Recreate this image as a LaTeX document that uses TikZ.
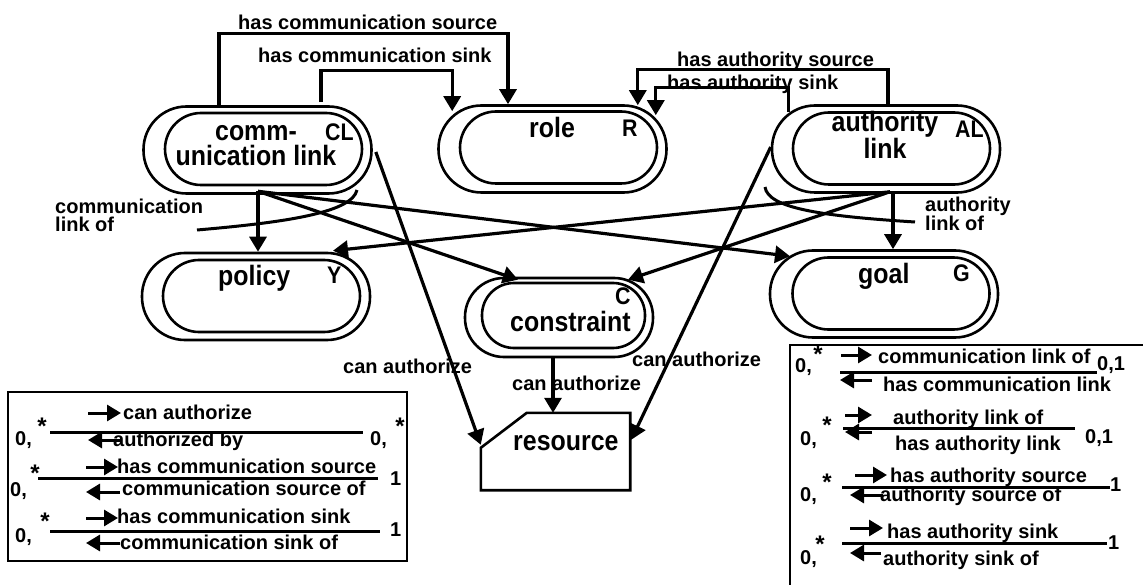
\documentclass[tikz,border=0pt]{standalone}
\usepackage{fontspec}
\setmainfont{Liberation Sans}
\newfontfamily\tallfont{Liberation Sans}[FakeStretch=0.89]
\usetikzlibrary{arrows.meta,calc}
\begin{document}
\begin{tikzpicture}[x=1pt,y=-1pt,
  outerst/.style={draw, line width=2.6pt, rounded corners=43pt, minimum width=228pt, minimum height=87pt, inner sep=0pt},
  innerst/.style={draw, line width=2.6pt, rounded corners=36pt, minimum width=197pt, minimum height=72pt, inner sep=0pt},
  conn/.style={line width=3.2pt, -{Triangle[length=15pt,width=17pt]}},
  plain/.style={line width=3pt},
  legr/.style={line width=3pt, -{Triangle[length=14pt,width=16pt]}},
  lbl/.style={font=\bfseries\fontsize{20}{20}\selectfont, inner sep=0pt, anchor=base west},
  nlbl/.style={font=\tallfont\bfseries\fontsize{28}{23}\selectfont, inner sep=0pt, anchor=base west},
  ltr/.style={font=\tallfont\bfseries\fontsize{24}{24}\selectfont, inner sep=0pt, anchor=base west},
  ast/.style={font=\bfseries\fontsize{24}{24}\selectfont, inner sep=0pt}
]
\useasboundingbox (0,0) rectangle (1143,585);

% ---- entity nodes
\node[outerst] (CL) at (257.5,150) {};
\node[innerst] (CLi) at (263.5,149) {};
\node[outerst] (R) at (552.5,149) {};
\node[innerst] (Ri) at (558.5,147.5) {};
\node[outerst] (AL) at (886,149) {};
\node[innerst] (ALi) at (891.5,148.5) {};
\node[outerst] (Y) at (256,296.5) {};
\node[innerst] (Yi) at (261.5,296) {};
\node[outerst] (G) at (884,294) {};
\node[innerst] (Gi) at (891,293.5) {};
\node[outerst, minimum width=188pt, minimum height=79pt, rounded corners=39pt] (C) at (559,317.5) {};
\node[innerst, minimum width=163pt, minimum height=65pt, rounded corners=32pt] (Ci) at (563.5,315.5) {};
\node[minimum width=149pt, minimum height=77pt, inner sep=0pt] (res) at (555.5,451.5) {};
\draw[line width=2.6pt] ($(res.north west)+(46,0)$) -- (res.north east) -- (res.south east) -- (res.south west) -- ($(res.north west)+(0,35)$) -- cycle;

% ---- node texts
\node[nlbl, align=center, anchor=base, font=\tallfont\bfseries\fontsize{28}{25}\selectfont] (tcl) at (256,166) {comm-\\unication link};
\node[ltr] (tcl3) at (325,141) {CL};
\node[nlbl] (trole) at (529,138) {role};
\node[ltr] (tr) at (622,137) {R};
\node[nlbl, align=center, anchor=base] (tal) at (885,159) {authority\\link};
\node[ltr] (tal3) at (955,138) {AL};
\node[nlbl] (tpol) at (218,286) {policy};
\node[ltr] (ty) at (327,284) {Y};
\node[nlbl] (tgoal) at (858,284) {goal};
\node[ltr] (tg) at (953,282) {G};
\node[ltr] (tc) at (615,305) {C};
\node[nlbl] (tcons) at (510,331) {constraint};
\node[nlbl] (tres) at (513,450) {resource};

% ---- connectors
\draw[conn] ($(CL.north)+(-38.5,0)$) -- ++(0,-71.5) -| ($(R.north)+(-44.5,0)$);
\draw[conn] ($(CL.north)+(63.5,-3)$) -- ++(0,-31.5) -| ($(R.north west)+(15,7)$);
\draw[conn] ($(AL.north)+(2,0)$) -- ++(0,-34.5) -| ($(R.north east)+(-30,1)$);
\draw[conn] ($(AL.north west)+(18,8)$) -- ++(0,-25) -| ($(R.north east)+(-12,11)$);
\draw[conn] ($(CL.south)+(0.5,-3.5)$) -- ($(Y.north)+(2,0)$);
\draw[conn] ($(CL.south)+(0.5,-3.5)$) -- ($(C.north)+(-41,3)$);
\draw[conn] ($(CL.south)+(0.5,-3.5)$) -- ($(G.north)+(-94,7)$);
\draw[conn] ($(AL.south)+(4,-2)$) -- ($(Y.north)+(77,-1)$);
\draw[conn] ($(AL.south)+(4,-2)$) -- ($(C.north)+(69,3)$);
\draw[conn] ($(AL.south)+(7,0)$) -- ($(G.north)+(9,0)$);
\draw[conn] ($(CL.east)+(3,2)$) -- ($(res.north west)+(0,32)$);
\draw[conn] ($(AL.west)+(0,-2)$) -- ($(res.north east)+(1,27)$);
\draw[conn] ($(C.south)+(-6,0)$) -- ($(res.north)+(-2.5,0)$);

% ---- arcs
\coordinate (cla) at (197,230);
\coordinate (clb) at (357,190);
\draw[plain] (cla) .. controls (290,222) and (352,212) .. (clb);
\coordinate (ala) at (765,187);
\coordinate (alb) at (915,222);
\draw[plain] (ala) .. controls (768,208) and (820,216) .. (alb);

% ---- connector labels
\node[lbl] (l1) at (238,30) {has communication source};
\node[lbl] (l2) at (258,63) {has communication sink};
\node[lbl] (l3) at (677,67) {has authority source};
\node[lbl] (l4) at (667,90) {has authority sink};
\node[lbl, align=left, anchor=base west, font=\bfseries\fontsize{20}{18}\selectfont] (l5) at (55,232) {communication\\link of};
\node[lbl, align=left, anchor=base west, font=\bfseries\fontsize{20}{18}\selectfont] (l6) at (925,231) {authority\\link of};
\node[lbl] (l7) at (343,373) {can authorize};
\node[lbl] (l8) at (632,366) {can authorize};
\node[lbl] (l9) at (512,390) {can authorize};

% ---- left legend
\draw[line width=2pt] (8,392) rectangle (407,561);
\draw[legr] (88,413) -- (121,413);
\node[lbl] (a1) at (123,419) {can authorize};
\draw[plain] (50,432) -- (363,432);
\draw[legr] (121,440) -- (88,440);
\node[lbl] (a2) at (113,446) {authorized by};
\node[lbl] (a3) at (15,445) {0,};
\node[ast] (a4) at (42,426) {*};
\node[lbl] (a5) at (370,445) {0,};
\node[ast] (a6) at (400,426) {*};

\draw[legr] (86,467) -- (118,467);
\node[lbl] (b1) at (117,473) {has communication source};
\draw[plain] (38,478) -- (378,478);
\draw[legr] (120,492) -- (86,492);
\node[lbl] (b2) at (122,495) {communication source of};
\node[lbl] (b3) at (10,496) {0,};
\node[ast] (b4) at (35,473) {*};
\node[lbl] (b5) at (390,485) {1};

\draw[legr] (86,518) -- (118,518);
\node[lbl] (c1) at (117,523) {has communication sink};
\draw[plain] (50,531) -- (380,531);
\draw[legr] (120,543) -- (86,543);
\node[lbl] (c2) at (120,549) {communication sink of};
\node[lbl] (c3) at (15,542) {0,};
\node[ast] (c4) at (45,521) {*};
\node[lbl] (c5) at (390,536) {1};

% ---- right legend
\draw[line width=2.6pt] (1143,345) -- (790,345) -- (790,585);
\node[lbl] (d1) at (795,372) {0,};
\node[ast] (d2) at (818,354) {*};
\draw[legr] (841,355) -- (872,355);
\node[lbl] (d3) at (878,363) {communication link of};
\draw[plain] (840,372) -- (1097,372);
\node[lbl] (d4) at (1097,370) {0,1};
\draw[legr] (872,380) -- (840,380);
\node[lbl] (d5) at (883,391) {has communication link};

\node[lbl] (e1) at (800,445) {0,};
\node[ast] (e2) at (827,425) {*};
\draw[legr] (845,415) -- (872,415);
\node[lbl] (e3) at (893,424) {authority link of};
\draw[plain] (843,428) -- (1075,428);
\node[lbl] (e4) at (1085,443) {0,1};
\draw[legr] (872,432) -- (845,432);
\node[lbl] (e5) at (895,450) {has authority link};

\draw[legr] (855,475) -- (887,475);
\node[lbl] (f1) at (890,482) {has authority source};
\draw[plain] (842,487) -- (1110,487);
\node[lbl] (f2) at (1110,491) {1};
\node[lbl] (f3) at (800,501) {0,};
\node[ast] (f4) at (827,482) {*};
\draw[legr] (883,495) -- (850,495);
\node[lbl] (f5) at (880,501) {authority source of};

\draw[legr] (850,528) -- (883,528);
\node[lbl] (g1) at (887,538) {has authority sink};
\draw[plain] (842,543) -- (1107,543);
\node[lbl] (g2) at (1108,549) {1};
\node[lbl] (g3) at (800,564) {0,};
\node[ast] (g4) at (820,544) {*};
\draw[legr] (881,553) -- (850,553);
\node[lbl] (g5) at (883,565) {authority sink of};
\end{tikzpicture}
\end{document}
